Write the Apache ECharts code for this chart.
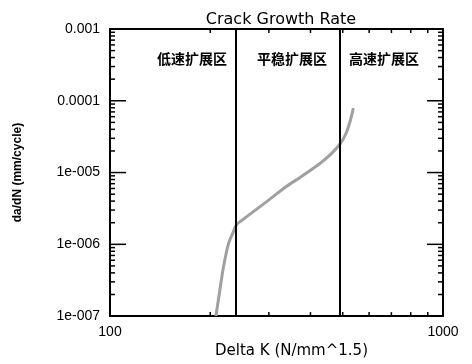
<!DOCTYPE html>
<html>
<head>
<meta charset="utf-8">
<script src="https://cdn.jsdelivr.net/npm/echarts@6/dist/echarts.min.js"></script>
<style>html,body{margin:0;padding:0;background:#fff}#c{width:472px;height:364px}</style>
</head>
<body>
<div id="c"></div>
<script>
// ---- data ----
const deltaK = [208, 213, 219, 226.6, 234.6, 239, 248.6, 298.8, 339.3, 372, 427, 457.9, 490.6, 511.3, 525.6, 538];
const dadN   = [1e-7, 2.06e-7, 4.74e-7, 1e-6, 1.49e-6, 1.84e-6, 2.15e-6, 4.1e-6, 6.45e-6, 8.55e-6, 1.34e-5, 1.76e-5, 2.5e-5, 3.5e-5, 5.1e-5, 7.9e-5];
const boundaries = [239, 490];
const regionNames = ['低速扩展区', '平稳扩展区', '高速扩展区'];
const xTickValues = [100, 1000];
const xTickLabels = ['100', '1000'];
const xMinorTicks = [200, 300, 400, 500, 600, 700, 800, 900];
const yTickValues = [1e-7, 1e-6, 1e-5, 1e-4, 1e-3];
const yTickLabels = ['1e-007', '1e-006', '1e-005', '0.0001', '0.001'];
const minorMultipliers = [2, 3, 4, 5, 6, 7, 8, 9];

const yMinorTicks = [];
yTickValues.slice(0, -1).forEach(d => minorMultipliers.forEach(m => yMinorTicks.push(m * d)));

const xMin = xTickValues[0], xMax = xTickValues[xTickValues.length - 1];
const yMin = yTickValues[0], yMax = yTickValues[yTickValues.length - 1];

function labelFor(values, labels) {
  return v => {
    for (let i = 0; i < values.length; i++) {
      if (Math.abs(Math.log10(v) - Math.log10(values[i])) < 1e-6) return labels[i];
    }
    return '';
  };
}
const FONT = 'Liberation Sans, Arial, sans-serif';
const tickStyle = () => ({ stroke: '#000', lineWidth: 1.5 });

function xAx(pos, withLabels) {
  return {
    type: 'log', logBase: 10, min: xMin, max: xMax, position: pos,
    axisLine: { show: true, lineStyle: { color: '#000', width: 2 } },
    axisTick: { show: false }, minorTick: { show: false },
    axisLabel: { show: withLabels, margin: 9, color: '#000', fontSize: 14, fontFamily: FONT, formatter: labelFor(xTickValues, xTickLabels) },
    splitLine: { show: false },
    name: withLabels ? 'Delta K (N/mm^1.5)' : '',
    nameLocation: 'middle', nameGap: 23,
    nameTextStyle: { color: '#000', fontSize: 15, fontFamily: 'DejaVu Sans, sans-serif', padding: [0, 0, 0, 30] }
  };
}
function yAx(pos, withLabels) {
  return {
    type: 'log', logBase: 10, min: yMin, max: yMax, position: pos,
    axisLine: { show: true, lineStyle: { color: '#000', width: 2 } },
    axisTick: { show: false }, minorTick: { show: false },
    axisLabel: { show: withLabels, margin: 10, color: '#000', fontSize: 14, fontFamily: FONT, formatter: labelFor(yTickValues, yTickLabels) },
    splitLine: { show: false },
    name: withLabels ? 'da/dN (mm/cycle)' : '',
    nameLocation: 'middle', nameGap: 86, nameRotate: 90,
    nameTextStyle: { color: '#000', fontSize: 12, fontWeight: 'bold', fontFamily: FONT }
  };
}

// inward ticks on left/right frame, placed through the axis scales
function yTickRender(len) {
  return (params, api) => {
    const v = api.value(1);
    const pl = api.coord([xMin, v]);
    const pr = api.coord([xMax, v]);
    return { type: 'group', children: [
      { type: 'line', shape: { x1: pl[0], y1: pl[1], x2: pl[0] + len, y2: pl[1] }, style: tickStyle() },
      { type: 'line', shape: { x1: pr[0], y1: pr[1], x2: pr[0] - len, y2: pr[1] }, style: tickStyle() }
    ]};
  };
}
// inward ticks on bottom/top frame
function xTickRender(len) {
  return (params, api) => {
    const v = api.value(0);
    const pb = api.coord([v, yMin]);
    const pt = api.coord([v, yMax]);
    return { type: 'group', children: [
      { type: 'line', shape: { x1: pb[0], y1: pb[1], x2: pb[0], y2: pb[1] - len }, style: tickStyle() },
      { type: 'line', shape: { x1: pt[0], y1: pt[1], x2: pt[0], y2: pt[1] + len }, style: tickStyle() }
    ]};
  };
}

const chart = echarts.init(document.getElementById('c'));
chart.setOption({
  animation: false,
  title: {
    text: 'Crack Growth Rate', left: 276, top: 7, textAlign: 'center',
    textStyle: { color: '#000', fontSize: 16, fontWeight: 'normal', fontFamily: 'DejaVu Sans, sans-serif' }
  },
  grid: { left: 110, right: 29, top: 29, bottom: 41 },
  xAxis: [xAx('bottom', true), xAx('top', false)],
  yAxis: [yAx('left', true), yAx('right', false)],
  graphic: [
    { type: 'text', left: 157, top: 52, style: { text: regionNames[0], fill: '#000', font: 'bold 14px "Noto Sans CJK SC"' } },
    { type: 'text', left: 257, top: 52, style: { text: regionNames[1], fill: '#000', font: 'bold 14px "Noto Sans CJK SC"' } },
    { type: 'text', left: 349, top: 52, style: { text: regionNames[2], fill: '#000', font: 'bold 14px "Noto Sans CJK SC"' } }
  ],
  series: [
    {
      type: 'line', xAxisIndex: 0, yAxisIndex: 0,
      data: deltaK.map((k, i) => [k, dadN[i]]),
      showSymbol: false, symbol: 'none', smooth: 0.3,
      lineStyle: { color: '#a0a0a0', width: 3 },
      markLine: {
        silent: true, symbol: 'none', label: { show: false },
        lineStyle: { color: '#000', width: 2, type: 'solid' },
        data: boundaries.map(b => ({ xAxis: b }))
      }
    },
    { type: 'custom', xAxisIndex: 0, yAxisIndex: 0, silent: true,
      data: yTickValues.map(v => [xMin, v]), renderItem: yTickRender(16) },
    { type: 'custom', xAxisIndex: 0, yAxisIndex: 0, silent: true,
      data: yMinorTicks.map(v => [xMin, v]), renderItem: yTickRender(5) },
    { type: 'custom', xAxisIndex: 0, yAxisIndex: 0, silent: true,
      data: xMinorTicks.map(v => [v, yMin]), renderItem: xTickRender(4) }
  ]
});
</script>
</body>
</html>
